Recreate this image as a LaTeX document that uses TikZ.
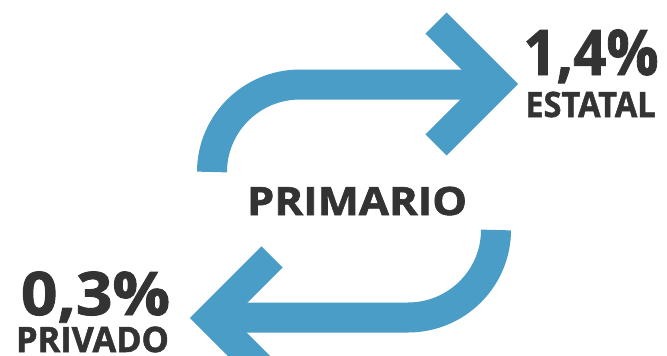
\documentclass[tikz,border=0pt]{standalone}
\usepackage{fontspec}
\setmainfont{Open Sans}[FakeBold=1.5]
\definecolor{arrowblue}{HTML}{4A9DC6}
\definecolor{txtgray}{HTML}{333333}
\begin{document}
\begin{tikzpicture}[x=1pt,y=-1pt,
  band/.style={draw=arrowblue, line width=30pt},
  head/.style={draw=arrowblue, line width=30pt, line join=miter},
  lbl/.style={text=txtgray, font=\bfseries, inner sep=0pt, outer sep=0pt, anchor=base}]
\useasboundingbox (0,0) rectangle (667,356);
\begin{scope}
\clip (0,0) rectangle (667,356);
% top arrow
\coordinate (ta) at (212,172);
\coordinate (tb) at (300,84.5);
\coordinate (tc) at (490,84.5);
\coordinate (th1) at (436,23);
\coordinate (th2) at (497,84);
\coordinate (th3) at (436,145);
\draw[band] (ta) .. controls (212,123.7) and (251.4,84.5) .. (tb) -- (tc);
\draw[head] (th1) -- (th2) -- (th3);
% bottom arrow (rotated copy)
\begin{scope}[rotate around={180:(354,201)}]
\coordinate (ba) at (212,172);
\coordinate (bb) at (300,84.5);
\coordinate (bc) at (490,84.5);
\coordinate (bh1) at (436,23);
\coordinate (bh2) at (497,84);
\coordinate (bh3) at (436,145);
\draw[band] (ba) .. controls (212,123.7) and (251.4,84.5) .. (bb) -- (bc);
\draw[head] (bh1) -- (bh2) -- (bh3);
\end{scope}
\end{scope}
% labels
\node[lbl, font=\bfseries\fontsize{63}{63}\selectfont] (p1) at (591,75) {\scalebox{0.92}[1]{1,4\%}};
\node[lbl, font=\bfseries\fontsize{35}{35}\selectfont] (e1) at (590.5,117) {\scalebox{0.93}[1]{ESTATAL}};
\node[lbl, font=\bfseries\fontsize{39}{39}\selectfont] (pm) at (357,215) {\scalebox{1.12}[1]{PRIMARIO}};
\node[lbl, font=\bfseries\fontsize{60}{60}\selectfont] (p2) at (95.5,315) {\scalebox{1.065}[1]{0,3\%}};
\node[lbl, font=\bfseries\fontsize{35}{35}\selectfont] (e2) at (92.5,352) {\scalebox{0.98}[1]{PRIVADO}};
\end{tikzpicture}
\end{document}
